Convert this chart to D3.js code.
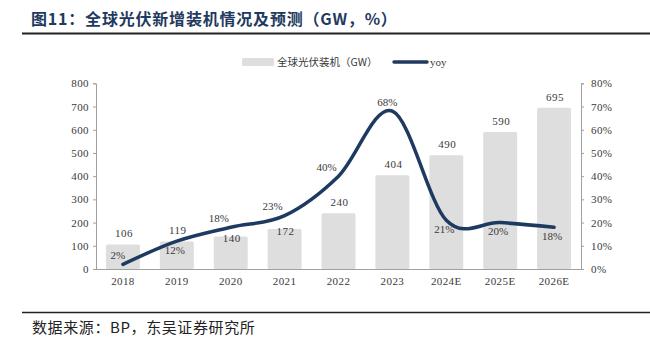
<!DOCTYPE html>
<html>
<head>
<meta charset="utf-8">
<script src="https://cdn.jsdelivr.net/npm/d3@7"></script>
<style>
  html, body { margin: 0; padding: 0; background: #fff; }
  svg { display: block; }
</style>
</head>
<body>
<svg id="chart" width="650" height="348"></svg>
<script>
// Global new PV installations (GW) and year-over-year growth (%)
const years = ["2018", "2019", "2020", "2021", "2022", "2023", "2024E", "2025E", "2026E"];
const installs = [106, 119, 140, 172, 240, 404, 490, 590, 695];
const yoy = [2, 12, 18, 23, 40, 68, 21, 20, 18];
const leftTicks = [0, 100, 200, 300, 400, 500, 600, 700, 800];
const rightTicks = [0, 10, 20, 30, 40, 50, 60, 70, 80];

// Where each label sits relative to its mark
const barLabelPlace = ["out", "out", "in", "in", "out", "out", "out", "out", "out"];
const yoyLabelPlace = ["above", "below", "aboveLeft", "aboveLeft", "aboveLeft", "above", "below", "below", "below"];

const svg = d3.select("#chart");
const serif = "'Liberation Serif', 'Times New Roman', serif";
const cjk = "'Noto Sans CJK SC', sans-serif";
const navy = "#1f3a60";
const textCol = "#3a3a3a";
const axisCol = "#a0a0a0";

// Title and rules
svg.append("text")
  .attr("x", 31).attr("y", 25)
  .attr("font-family", cjk).attr("font-weight", "bold")
  .attr("font-size", 16).attr("fill", navy)
  .attr("letter-spacing", 0.8)
  .text("图11：全球光伏新增装机情况及预测（GW，%）");
svg.append("line").attr("x1", 22).attr("x2", 650).attr("y1", 33.5).attr("y2", 33.5)
  .attr("stroke", "#222").attr("stroke-width", 2);
svg.append("line").attr("x1", 22).attr("x2", 650).attr("y1", 312.5).attr("y2", 312.5)
  .attr("stroke", "#222").attr("stroke-width", 1.5);
svg.append("text")
  .attr("x", 32).attr("y", 333)
  .attr("font-family", cjk).attr("font-size", 15).attr("fill", "#222")
  .attr("letter-spacing", 0.6)
  .text("数据来源：BP，东吴证券研究所");

// Scales
const x = d3.scaleBand().domain(years).range([96, 581]).paddingInner(0.37).paddingOuter(0.185);
const yL = d3.scaleLinear().domain([0, 800]).range([269, 83.3]);
const yR = d3.scaleLinear().domain([0, 80]).range([269, 83.3]);

// Bars
svg.append("g").selectAll("rect").data(installs).join("rect")
  .attr("x", (d, i) => x(years[i]))
  .attr("y", d => yL(d))
  .attr("width", x.bandwidth())
  .attr("height", d => yL(0) - yL(d))
  .attr("rx", 1.5)
  .attr("fill", "#dedede");

// Axes
const axL = svg.append("g").attr("transform", "translate(96,0)")
  .call(d3.axisLeft(yL).tickValues(leftTicks).tickSize(3).tickPadding(4));
const axR = svg.append("g").attr("transform", "translate(581,0)")
  .call(d3.axisRight(yR).tickValues(rightTicks).tickSize(3).tickPadding(7).tickFormat(d => d + "%"));
const axB = svg.append("g").attr("transform", "translate(0,269)")
  .call(d3.axisBottom(x).tickSize(0).tickPadding(8));
[axL, axR, axB].forEach(g => {
  g.select(".domain").attr("stroke", axisCol).attr("stroke-width", 1);
  g.selectAll(".tick line").attr("stroke", axisCol);
  g.selectAll(".tick text").attr("font-family", serif).attr("font-size", 11).attr("fill", textCol)
    .attr("letter-spacing", 0.4);
});
axB.select(".domain").attr("d", "M96,0.5H581");

// Growth line
const line = d3.line()
  .x((d, i) => x(years[i]) + x.bandwidth() / 2)
  .y(d => yR(d))
  .curve(d3.curveCardinal.tension(0));
svg.append("path").datum(yoy)
  .attr("d", line)
  .attr("fill", "none")
  .attr("stroke", navy)
  .attr("stroke-width", 3.5)
  .attr("stroke-linecap", "round");

// Bar value labels
svg.append("g").selectAll("text").data(installs).join("text")
  .attr("x", (d, i) => x(years[i]) + x.bandwidth() / 2 + 1)
  .attr("y", (d, i) => yL(d) + (barLabelPlace[i] === "in" ? 2 : -11))
  .attr("dy", "0.35em")
  .attr("text-anchor", "middle")
  .attr("font-family", serif).attr("font-size", 11).attr("fill", textCol)
  .attr("letter-spacing", 0.5)
  .text(d => d);

// Growth labels
const nudge = { above: [-5, -9], below: [-2, 9], aboveLeft: [-12, -9] };
svg.append("g").selectAll("text").data(yoy).join("text")
  .attr("x", (d, i) => x(years[i]) + x.bandwidth() / 2 + nudge[yoyLabelPlace[i]][0])
  .attr("y", (d, i) => yR(d) + nudge[yoyLabelPlace[i]][1])
  .attr("dy", "0.35em")
  .attr("text-anchor", "middle")
  .attr("font-family", serif).attr("font-size", 11).attr("fill", textCol)
  .text(d => d + "%");

// Legend
const lg = svg.append("g");
lg.append("rect").attr("x", 242).attr("y", 58).attr("width", 32).attr("height", 8).attr("rx", 1.5).attr("fill", "#dedede");
lg.append("text").attr("x", 277).attr("y", 62).attr("dy", "0.35em")
  .attr("font-family", cjk).attr("font-size", 10.5).attr("fill", textCol)
  .text("全球光伏装机（GW）");
lg.append("line").attr("x1", 394).attr("x2", 427).attr("y1", 62).attr("y2", 62)
  .attr("stroke", navy).attr("stroke-width", 3.5).attr("stroke-linecap", "round");
lg.append("text").attr("x", 430).attr("y", 62).attr("dy", "0.35em")
  .attr("font-family", serif).attr("font-size", 11).attr("fill", textCol)
  .text("yoy");
</script>
</body>
</html>
